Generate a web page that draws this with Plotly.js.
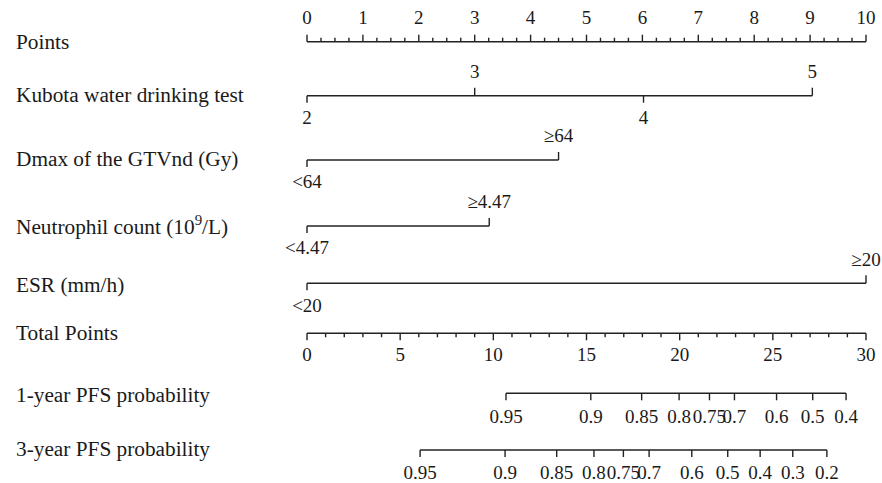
<!DOCTYPE html>
<html>
<head>
<meta charset="utf-8">
<script src="https://cdn.plot.ly/plotly-3.0.1.min.js"></script>
<style>html,body{margin:0;padding:0;background:#fff;}#chart{width:882px;height:483px;}</style>
</head>
<body>
<div id="chart"></div>
<script>
// ---------------- data ----------------
const rowNames = ['Points', 'Kubota water drinking test', 'Dmax of the GTVnd (Gy)',
  'Neutrophil count (10<sup>9</sup>/L)', 'ESR (mm/h)', 'Total Points',
  '1-year PFS probability', '3-year PFS probability'];

const pointsTicks = [0, 1, 2, 3, 4, 5, 6, 7, 8, 9, 10];
const pointsMinorStep = 0.25;

const kubotaLabels = ['2', '3', '4', '5'];
const kubotaPoints = [0, 3.0, 6.02, 9.04];

const dmaxLabels = ['<64', '≥64'];
const dmaxPoints = [0, 4.5];

const neutLabels = ['<4.47', '≥4.47'];
const neutPoints = [0, 3.26];

const esrLabels = ['<20', '≥20'];
const esrPoints = [0, 10];

const totalTicks = [0, 5, 10, 15, 20, 25, 30];
const totalMinorStep = 1;
const totalMax = 30;
const pointsMax = 10;

const pfs1Labels = ['0.95', '0.9', '0.85', '0.8', '0.75', '0.7', '0.6', '0.5', '0.4'];
const pfs1Total = [10.68, 15.23, 17.96, 19.97, 21.6, 22.94, 25.2, 27.14, 28.93];

const pfs3Labels = ['0.95', '0.9', '0.85', '0.8', '0.75', '0.7', '0.6', '0.5', '0.4', '0.3', '0.2'];
const pfs3Total = [6.07, 10.63, 13.4, 15.4, 16.98, 18.36, 20.65, 22.58, 24.32, 26.07, 27.9];

// ---------------- layout config ----------------
const W = 882, H = 483;
const X0PX = 307, X10PX = 866;          // pixel of 0 and 10 points
const pxPerPt = (X10PX - X0PX) / pointsMax;
const ROW_Y = [41.7, 95.7, 160, 226, 283.3, 333.3, 393.3, 450];
const LABEL_DY = [0, -0.5, -1, -0.5, 1.5, 0, 1.8, -1];
const FONT = 'Liberation Serif, Times New Roman, serif';
const FS_NAME = 21.3;
const FS_TICK = 19;
const INK = '#222';
const TXT = '#1a1a1a';

const traces = [];
const lineStyle = {color: INK, width: 1.4};

function addLine(xs, y, ticks) {
  // ticks: [{x, len}] len negative = up
  const X = [Math.min(...xs), Math.max(...xs), null];
  const Y = [y, y, null];
  ticks.forEach(t => { X.push(t.x, t.x, null); Y.push(y, y + t.len, null); });
  traces.push({type: 'scatter', mode: 'lines', x: X, y: Y, line: lineStyle,
    hoverinfo: 'skip', showlegend: false});
}
function addText(xs, ys, texts) {
  traces.push({type: 'scatter', mode: 'text', x: xs, y: ys, text: texts,
    textposition: 'middle center', cliponaxis: false,
    textfont: {family: FONT, size: FS_TICK, color: TXT}, hoverinfo: 'skip', showlegend: false});
}

// Points axis (ticks up, labels above)
(function () {
  const y = ROW_Y[0];
  const ticks = [];
  const n = Math.round(pointsMax / pointsMinorStep);
  for (let i = 0; i <= n; i++) {
    const v = i * pointsMinorStep;
    const major = pointsTicks.some(t => Math.abs(t - v) < 1e-9);
    ticks.push({x: v, len: major ? -7 : -4});
  }
  addLine([0, pointsMax], y, ticks);
  addText(pointsTicks, pointsTicks.map(() => y - 22.9), pointsTicks.map(String));
})();

// categorical variables: alternate below / above
function addVariable(row, pts, labels) {
  const y = ROW_Y[row];
  const ticks = pts.map((p, i) => ({x: p, len: i % 2 === 0 ? 7 : -8}));
  addLine(pts, y, ticks);
  addText(pts, pts.map((p, i) => i % 2 === 0 ? y + 23.5 : y - 22.5), labels);
}
addVariable(1, kubotaPoints, kubotaLabels);
addVariable(2, dmaxPoints, dmaxLabels);
addVariable(3, neutPoints, neutLabels);
addVariable(4, esrPoints, esrLabels);

// Total points axis (ticks down, labels below)
const tp2pt = v => v * pointsMax / totalMax;
(function () {
  const y = ROW_Y[5];
  const ticks = [];
  for (let v = 0; v <= totalMax + 1e-9; v += totalMinorStep) {
    const major = totalTicks.some(t => Math.abs(t - v) < 1e-9);
    ticks.push({x: tp2pt(v), len: major ? 7 : 4});
  }
  addLine([0, pointsMax], y, ticks);
  addText(totalTicks.map(tp2pt), totalTicks.map(() => y + 22.5), totalTicks.map(String));
})();

// probability scales (ticks down, labels below)
function addProb(row, totals, labels) {
  const y = ROW_Y[row];
  const xs = totals.map(tp2pt);
  addLine(xs, y, xs.map(x => ({x: x, len: 7})));
  addText(xs, xs.map(() => y + 24.5), labels);
}
addProb(6, pfs1Total, pfs1Labels);
addProb(7, pfs3Total, pfs3Labels);

// row names as annotations
const annotations = rowNames.map((name, i) => ({
  xref: 'paper', yref: 'y', x: 14 / W, y: ROW_Y[i] + LABEL_DY[i],
  xanchor: 'left', yanchor: 'middle', text: name, showarrow: false,
  font: {family: FONT, size: FS_NAME, color: TXT}
}));

const layout = {
  width: W, height: H,
  margin: {l: 0, r: 0, t: 0, b: 0, pad: 0},
  paper_bgcolor: '#fff', plot_bgcolor: '#fff',
  xaxis: {range: [-X0PX / pxPerPt, (W - X0PX) / pxPerPt], visible: false, fixedrange: true},
  yaxis: {range: [H, 0], visible: false, fixedrange: true},
  annotations: annotations,
  showlegend: false
};

Plotly.newPlot('chart', traces, layout, {staticPlot: true, displayModeBar: false});
</script>
</body>
</html>
